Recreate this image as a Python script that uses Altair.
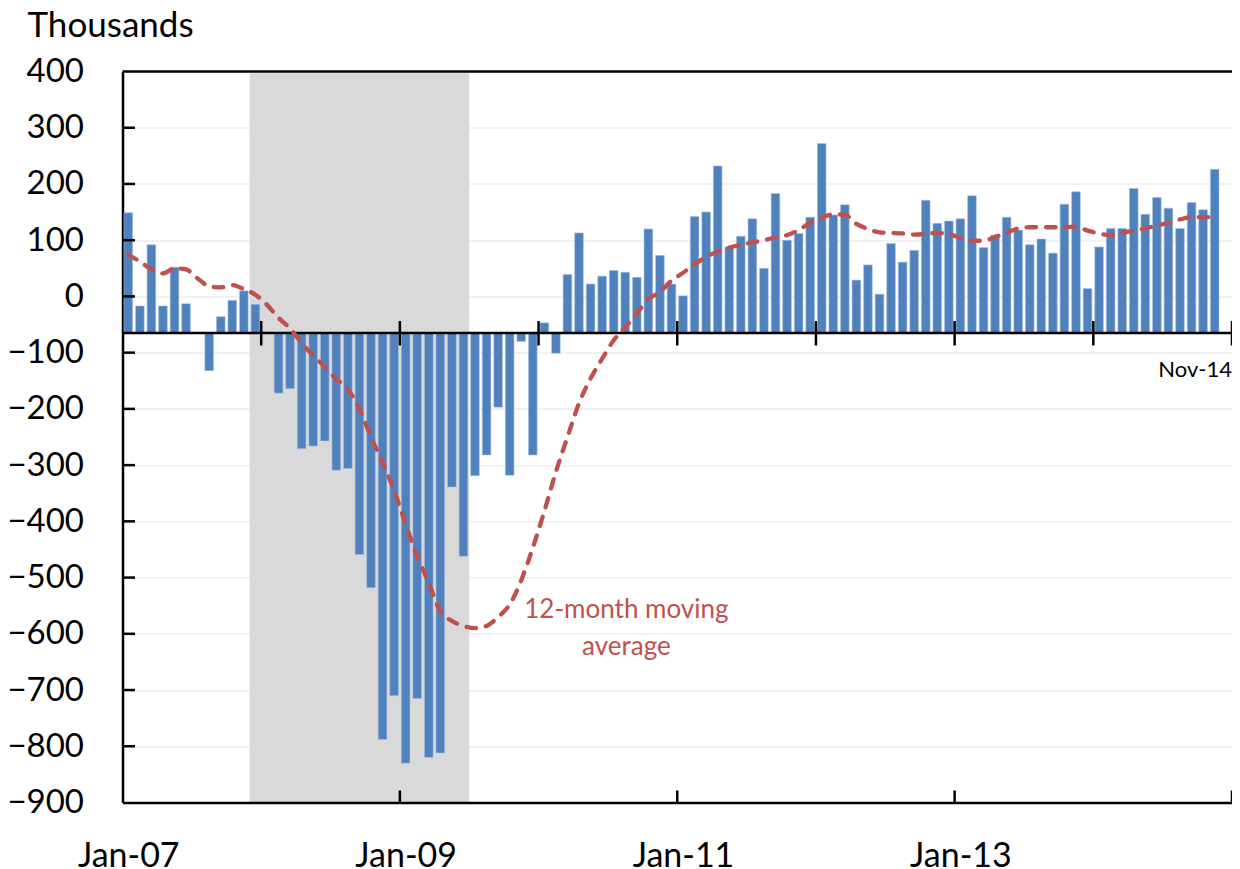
import altair as alt
import pandas as pd

FONT = "Lato"
BLUE = "#4F81BD"
RED = "#C0504D"

# ---------------- data ----------------
# monthly values Jan-07 .. Nov-14, as placed on the chart's value axis (thousands)
payroll = [149, -17, 92, -17, 52, -13, -65, -132, -36, -7, 10, -14,          # 2007
           -63, -172, -164, -271, -266, -257, -309, -306, -459, -518, -788, -710,  # 2008
           -830, -715, -820, -812, -339, -462, -319, -282, -197, -318, -80, -282,  # 2009
           -47, -101, 39, 113, 22, 36, 46, 43, 34, 120, 73, 22,              # 2010
           1, 142, 150, 232, 88, 107, 138, 50, 183, 100, 112, 141,           # 2011
           272, 145, 163, 29, 56, 4, 94, 61, 82, 171, 130, 134,              # 2012
           138, 179, 87, 109, 141, 118, 92, 102, 77, 164, 186, 14,           # 2013
           88, 121, 121, 192, 146, 176, 157, 121, 167, 154, 226]             # 2014

ma12 = [74, 62, 48, 41, 50, 48, 32, 18, 16, 20, 13, 3,
        -15, -38, -57, -83, -105, -125, -147, -165, -200, -250, -295, -345,
        -405, -462, -510, -560, -577, -586, -590, -586, -570, -548, -505, -447,
        -382, -312, -250, -190, -146, -111, -78, -55, -30, -5, 8, 28,
        42, 57, 70, 80, 87, 92, 96, 100, 105, 109, 118, 131,
        140, 146, 145, 129, 120, 114, 113, 112, 110, 111, 113, 111,
        104, 99, 99, 106, 113, 121, 123, 123, 123, 123, 124, 117,
        112, 109, 113, 117, 121, 126, 131, 137, 141, 141, 141]

axis_cross = -65                      # value where the category axis crosses
recession_start, recession_end = 11, 30   # month index (Dec-07 .. Jun-09)
n_slots = 96                          # Jan-07 .. Dec-14
year_ticks = [12, 24, 36, 48, 60, 72, 84, 96]
bottom_ticks = [24, 48, 72, 96]
x_label_pos = [0.5, 24.5, 48.5, 72.5]
x_label_text = ["Jan-07", "Jan-09", "Jan-11", "Jan-13"]
y_values = list(range(-900, 401, 100))
y_inner_ticks = list(range(-800, 301, 100))
end_label = "Nov-14"
annotation_lines = ["12-month moving", "average"]
annotation_pos = (43.6, -572)
y_title = "Thousands"

# ---------------- layout ----------------
W = 1109.5
H = 731
PAD = {"left": 114.5, "top": 63.5, "right": 0, "bottom": 66}

xs = alt.Scale(domain=[0, n_slots], nice=False, zero=False)
ys = alt.Scale(domain=[-900, 400], nice=False, zero=False)

label_expr = " : ".join(
    f"datum.value < {p + 1} ? '{t}'" for p, t in zip(x_label_pos[:-1], x_label_text[:-1])
) + f" : '{x_label_text[-1]}'"

x_axis = alt.Axis(
    values=x_label_pos, labelExpr=label_expr, title=None, grid=False,
    ticks=False, tickSize=0, labelFlush=False, labelOverlap=False, labelBound=False,
    labelFont=FONT, labelFontSize=34, labelColor="black", labelPadding=36.5,
    domainColor="black", domainWidth=2.5, zindex=1)
y_axis = alt.Axis(
    values=y_values, format="d", title=None, grid=True, gridColor="#EEEEEE",
    gridWidth=1.5, ticks=False, tickSize=0, labelFlush=False, labelOverlap=False,
    labelFont=FONT, labelFontSize=33, labelColor="black", labelPadding=39,
    domainColor="black", domainWidth=2.5, zindex=0)


def X(f):
    return alt.X(f, scale=xs, axis=x_axis)


def Y(f):
    return alt.Y(f, scale=ys, axis=y_axis)


bars_df = pd.DataFrame({"i": list(range(len(payroll))), "v": payroll, "b": axis_cross})
ma_df = pd.DataFrame({"i": list(range(len(ma12))), "v": ma12})

shade = alt.Chart(pd.DataFrame({"a": [recession_start], "b": [recession_end],
                                "top": [397], "bot": [-900]})).mark_rect(
    color="#D9D9D9"
).encode(x=X("a:Q"), x2="b:Q", y=Y("top:Q"), y2="bot:Q")

bars = alt.Chart(bars_df).transform_calculate(
    x1="datum.i + 0.125", x2="datum.i + 0.875"
).mark_bar(color=BLUE, stroke="#A9C1E0", strokeWidth=0.6).encode(
    x=X("x1:Q"), x2="x2:Q", y=Y("v:Q"), y2="b:Q",
)

mid_axis = alt.Chart(pd.DataFrame({"y": [axis_cross]})).mark_rule(
    color="black", strokeWidth=2.5
).encode(x=alt.value(0), x2=alt.value(W), y=Y("y:Q"))

mid_ticks = alt.Chart(pd.DataFrame({"t": year_ticks, "y": axis_cross})).mark_rule(
    color="black", strokeWidth=2.5, yOffset=-12, y2Offset=12.5
).encode(x=X("t:Q"), y=Y("y:Q"), y2="y:Q")

ma_line = alt.Chart(ma_df).transform_calculate(xc="datum.i + 0.5").mark_line(
    color=RED, strokeWidth=4.3, strokeDash=[9.5, 10], strokeCap="round", interpolate="monotone"
).encode(x=X("xc:Q"), y=Y("v:Q"))

y_ticks = alt.Chart(pd.DataFrame({"t": y_inner_ticks})).mark_rule(
    color="black", strokeWidth=2.5
).encode(y=Y("t:Q"), x=alt.value(0), x2=alt.value(12.5))

b_ticks = alt.Chart(pd.DataFrame({"t": bottom_ticks})).mark_rule(
    color="black", strokeWidth=2.5
).encode(x=X("t:Q"), y=alt.value(H - 12), y2=alt.value(H))

top_border = alt.Chart(pd.DataFrame({"y": [400]})).mark_rule(
    color="black", strokeWidth=2.5
).encode(x=alt.value(0), x2=alt.value(W), y=Y("y:Q"))

annot = alt.Chart(pd.DataFrame({"x": [annotation_pos[0]], "y": [annotation_pos[1]],
                                "t": [annotation_lines]})).mark_text(
    font=FONT, fontSize=26, color=RED, align="center", baseline="alphabetic", lineHeight=36.5
).encode(x=X("x:Q"), y=Y("y:Q"), text="t")

end_txt = alt.Chart(pd.DataFrame({"t": [end_label]})).mark_text(
    font=FONT, fontSize=22, color="black", align="right", baseline="alphabetic"
).encode(x=alt.value(W), y=alt.value(305), text="t:N")

title_txt = alt.Chart(pd.DataFrame({"t": [y_title]})).mark_text(
    font=FONT, fontSize=35, color="black", align="left", baseline="alphabetic"
).encode(x=alt.value(-95), y=alt.value(-34.5), text="t:N")

chart = alt.layer(
    shade, bars, mid_axis, mid_ticks, ma_line, y_ticks, b_ticks, top_border,
    annot, end_txt, title_txt
).properties(
    width=W, height=H, padding=PAD,
    autosize=alt.AutoSizeParams(type="none"),
    background="white",
).configure_view(strokeWidth=0)

chart.save("out.html", embed_options={"renderer": "svg", "actions": False})
